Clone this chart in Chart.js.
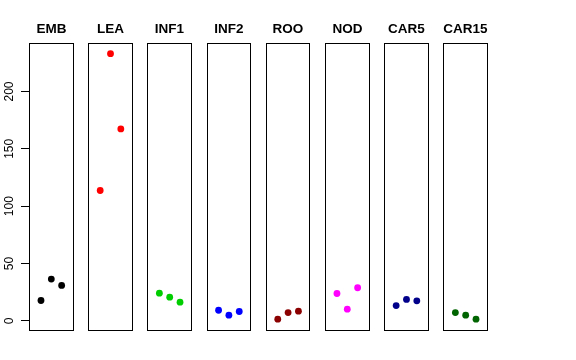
<!DOCTYPE html>
<html>
<head>
<meta charset="utf-8">
<script src="https://cdn.jsdelivr.net/npm/chart.js@4"></script>
<style>
  body { margin: 0; background: #fff; }
  canvas { display: block; }
</style>
</head>
<body>
<canvas id="stripChart" width="576" height="360"></canvas>
<script>
// panel names and colours
const groups = ['EMB', 'LEA', 'INF1', 'INF2', 'ROO', 'NOD', 'CAR5', 'CAR15'];
const colors = ['#000000', '#FF0000', '#00CD00', '#0000FF', '#8B0000', '#FF00FF', '#00008B', '#006400'];

// three values per panel
const emb   = [17.8, 36.5, 30.9];
const lea   = [113.7, 233.0, 167.4];
const inf1  = [24.2, 20.7, 16.3];
const inf2  = [9.3, 5.0, 8.2];
const roo   = [1.5, 7.3, 8.5];
const nod   = [23.9, 10.2, 28.9];
const car5  = [13.4, 18.7, 17.5];
const car15 = [7.3, 5.0, 1.5];
const yTicks = [0, 50, 100, 150, 200];

const values = [emb, lea, inf1, inf2, roo, nod, car5, car15];

const pitch = 5.73;            // distance between panels in x units
const panelMin = -0.16, panelMax = 4.16;

const datasets = groups.map(function(name, k) {
    return {
        label: name,
        data: values[k].map(function(v, j) { return { x: k * pitch + j + 1, y: v }; }),
        backgroundColor: colors[k],
        borderColor: colors[k],
        pointRadius: 3.4,
        pointHoverRadius: 3.4,
        borderWidth: 0,
        showLine: false
    };
});

// draw a frame and a bold title for each panel
const panelPlugin = {
    id: 'panels',
    afterDatasetsDraw(chart) {
        const ctx = chart.ctx;
        const xs = chart.scales.x;
        const area = chart.chartArea;
        ctx.save();
        ctx.strokeStyle = '#000';
        ctx.lineWidth = 1;
        groups.forEach(function(name, k) {
            const l = Math.round(xs.getPixelForValue(k * pitch + panelMin)) + 0.5;
            const r = Math.round(xs.getPixelForValue(k * pitch + panelMax)) - 0.5;
            const t = Math.round(area.top) + 0.5;
            const b = Math.round(area.bottom) - 0.5;
            ctx.strokeRect(l, t, r - l, b - t);
            ctx.fillStyle = '#000';
            ctx.font = 'bold 13.5px "Liberation Sans", Arial, sans-serif';
            ctx.textAlign = 'center';
            ctx.textBaseline = 'middle';
            ctx.fillText(name, (l + r) / 2, area.top - 14);
        });
        ctx.restore();
    }
};

new Chart(document.getElementById('stripChart').getContext('2d'), {
    type: 'scatter',
    data: { datasets: datasets },
    plugins: [panelPlugin],
    options: {
        responsive: false,
        animation: false,
        layout: { padding: { left: 0, right: 88, top: 43, bottom: 29 } },
        plugins: {
            legend: { display: false },
            tooltip: { enabled: false }
        },
        scales: {
            x: {
                type: 'linear',
                display: false,
                min: panelMin,
                max: 7 * pitch + panelMax
            },
            y: {
                type: 'linear',
                min: -8.8,
                max: 242.3,
                afterBuildTicks: function(scale) {
                    scale.ticks = yTicks.map(function(v) { return { value: v }; });
                },
                afterFit: function(scale) { scale.width = 29; },
                border: { display: false },
                grid: {
                    drawOnChartArea: false,
                    drawTicks: true,
                    tickLength: 8,
                    color: '#000'
                },
                ticks: {
                    minRotation: 90,
                    maxRotation: 90,
                    crossAlign: 'center',
                    padding: 1,
                    color: '#000',
                    font: { family: '"Liberation Sans", Arial, sans-serif', size: 12 }
                }
            }
        }
    }
});
</script>
</body>
</html>
